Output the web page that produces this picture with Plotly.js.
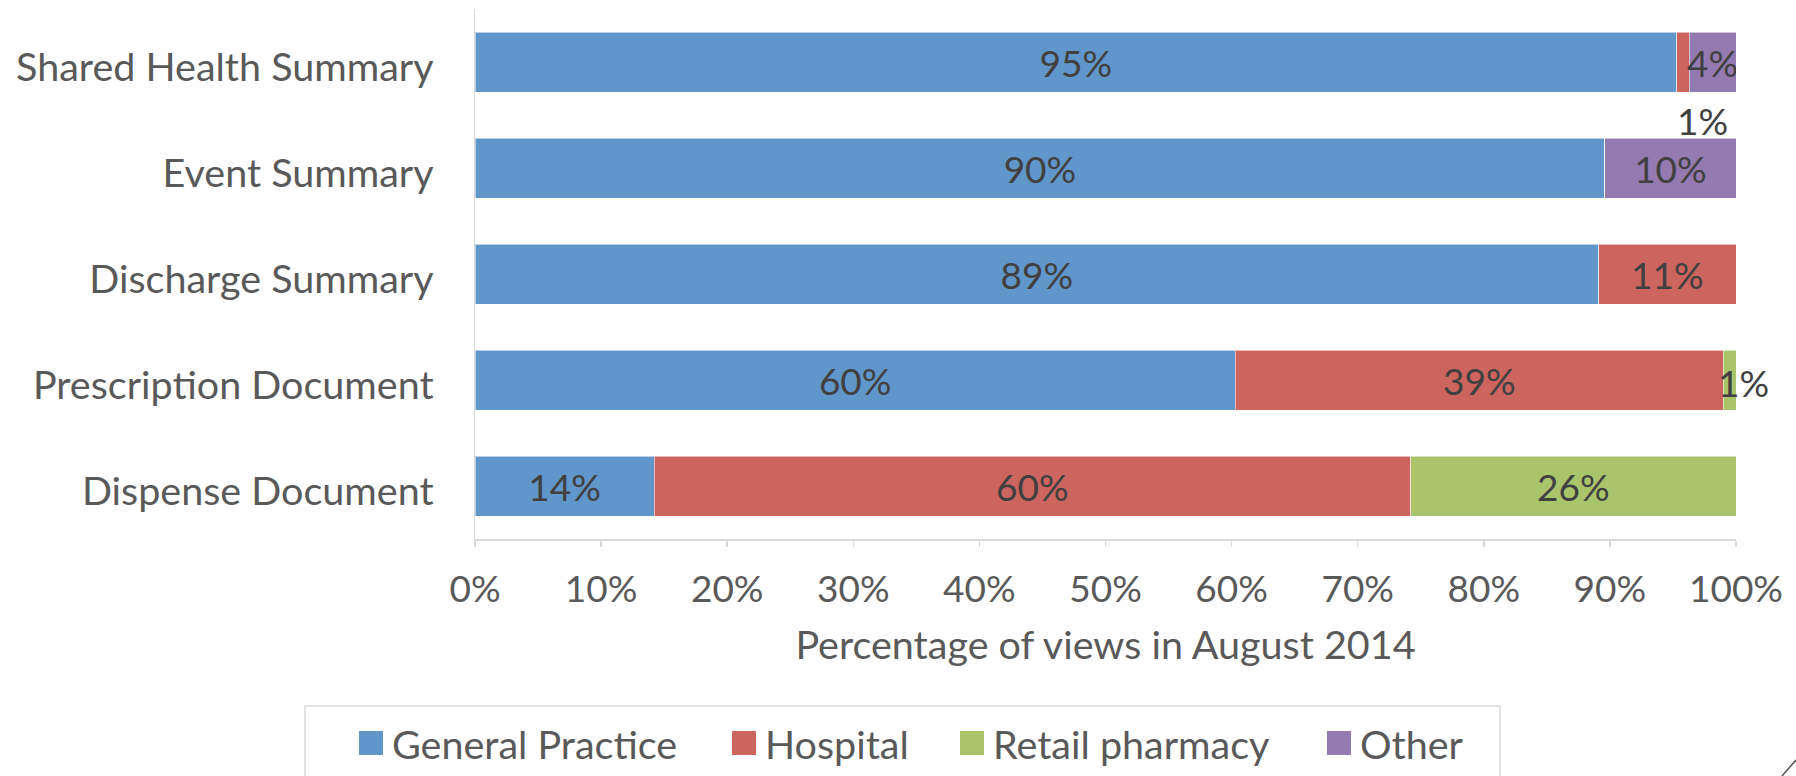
<!DOCTYPE html>
<html><head><meta charset="utf-8">
<script src="https://cdn.plot.ly/plotly-3.0.1.min.js"></script>
<style>html,body{margin:0;padding:0;background:#fff;}#chart{width:1796px;height:776px;}</style>
</head><body><div id="chart"></div>
<script>
// ---- data ----
const categories = ["Shared Health Summary", "Event Summary", "Discharge Summary", "Prescription Document", "Dispense Document"];
const seriesNames = ["General Practice", "Hospital", "Retail pharmacy", "Other"];
const generalPractice = [95.3, 89.6, 89.1, 60.3, 14.2];
const hospital = [1.0, 0, 10.9, 38.7, 60.0];
const retailPharmacy = [0, 0, 0, 1.0, 25.8];
const other = [3.7, 10.4, 0, 0, 0];
const xTickValues = [0, 10, 20, 30, 40, 50, 60, 70, 80, 90, 100];
const xTickLabels = ["0%", "10%", "20%", "30%", "40%", "50%", "60%", "70%", "80%", "90%", "100%"];
const xAxisTitle = "Percentage of views in August 2014";

// ---- style ----
const colors = ["#6096C9", "#CC655E", "#A9C46B", "#937BB2"];
const FONT = "Lato, 'Open Sans', sans-serif";
const FS_NUM = 37;
const FS_TXT = 39.5;
const labelColor = "#404040";
const axisTextColor = "#595959";

const seriesValues = [generalPractice, hospital, retailPharmacy, other];

// plot area in pixels
const L = 475, R = 1736, T = 9, B = 539;
const W = 1796, H = 776;
const px2x = p => (p - L) / (R - L);
const py2y = p => (B - p) / (B - T);

const traces = seriesValues.map((vals, s) => ({
  type: "bar",
  orientation: "h",
  name: seriesNames[s],
  y: categories,
  x: vals,
  marker: {color: colors[s], line: {color: "rgba(255,255,255,0.55)", width: 1}},
  text: vals.map(v => (v >= 2 ? Math.round(v) + "%" : "")),
  textposition: vals.map(v => (v >= 2 ? "inside" : "none")),
  insidetextanchor: "middle",
  constraintext: "none",
  textangle: 0,
  insidetextfont: {family: FONT, size: FS_NUM, color: labelColor},
  textfont: {family: FONT, size: FS_NUM, color: labelColor},
  showlegend: false,
  hoverinfo: "name+x+y"
}));

// small-segment labels placed outside the segment
const annotations = [];
seriesValues.forEach((vals, s) => {
  vals.forEach((v, i) => {
    if (v > 0 && v < 2) {
      let start = 0;
      for (let k = 0; k < s; k++) start += seriesValues[k][i];
      const center = start + v / 2;
      const below = (i === 0);
      annotations.push({
        x: center, y: categories[i], xref: "x", yref: "y",
        text: Math.round(v) + "%", showarrow: false,
        font: {family: FONT, size: FS_NUM, color: labelColor},
        xshift: below ? 19 : 14, yshift: below ? -58 : -2
      });
    }
  });
});

// manual legend
const shapes = [];
const legendX = [359, 732, 960, 1327];
shapes.push({type: "rect", xref: "paper", yref: "paper",
  x0: px2x(305), x1: px2x(1500), y0: py2y(820), y1: py2y(706),
  line: {color: "#D9D9D9", width: 1.5}, fillcolor: "rgba(0,0,0,0)"});
seriesNames.forEach((n, s) => {
  shapes.push({type: "rect", xref: "paper", yref: "paper",
    x0: px2x(legendX[s]), x1: px2x(legendX[s] + 24), y0: py2y(755), y1: py2y(731),
    line: {width: 0}, fillcolor: colors[s]});
  annotations.push({xref: "paper", yref: "paper", x: px2x(legendX[s] + 31), y: py2y(743),
    xanchor: "left", yanchor: "middle", showarrow: false, text: n,
    font: {family: FONT, size: FS_TXT, color: axisTextColor}});
});
// corner resize mark
shapes.push({type: "line", xref: "paper", yref: "paper",
  x0: px2x(1782), y0: py2y(776), x1: px2x(1796), y1: py2y(760),
  line: {color: "#555", width: 1.5}});

const layout = {
  width: W, height: H,
  margin: {l: L, r: W - R, t: T, b: H - B, pad: 0},
  barmode: "stack",
  bargap: 0.434,
  paper_bgcolor: "#fff", plot_bgcolor: "#fff",
  font: {family: FONT, size: FS_TXT, color: axisTextColor},
  showlegend: false,
  xaxis: {
    range: [0, 100], autorange: false, tickvals: xTickValues, ticktext: xTickLabels,
    showgrid: false, zeroline: false, showline: true, linecolor: "#D9D9D9", linewidth: 1.5,
    ticks: "outside", ticklen: 6, tickcolor: "#D9D9D9", tickwidth: 1.5,
    ticklabelstandoff: 11,
    tickfont: {family: FONT, size: FS_NUM, color: axisTextColor},
    title: {text: xAxisTitle, font: {family: FONT, size: FS_TXT, color: axisTextColor}, standoff: 22},
    fixedrange: true
  },
  yaxis: {
    type: "category", categoryorder: "array", categoryarray: categories,
    range: [categories.length - 0.5, -0.5], autorange: false,
    showgrid: false, zeroline: false, showline: true, linecolor: "#D9D9D9", linewidth: 1.5,
    ticks: "", ticklabelstandoff: 32, ticklabelshift: -5,
    tickfont: {family: FONT, size: FS_TXT, color: axisTextColor},
    fixedrange: true
  },
  annotations: annotations,
  shapes: shapes
};

Plotly.newPlot("chart", traces, layout, {displayModeBar: false, staticPlot: true});
</script>
</body></html>
